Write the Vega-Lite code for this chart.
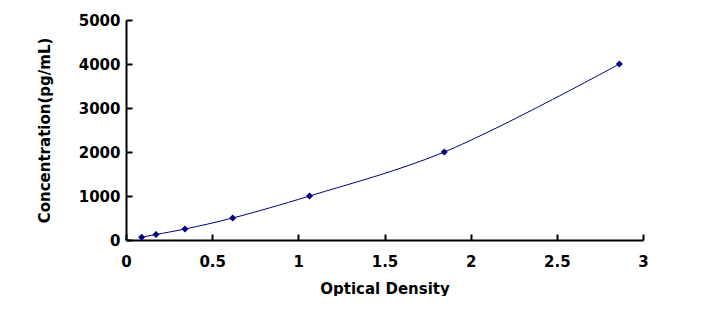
{
  "$schema": "https://vega.github.io/schema/vega-lite/v6.json",
  "width": 517,
  "height": 220,
  "autosize": {"type": "none"},
  "padding": {"left": 126, "top": 20, "right": 77, "bottom": 56},
  "background": "white",
  "config": {
    "view": {"stroke": null},
    "font": "DejaVu Sans",
    "axis": {
      "grid": false,
      "domainColor": "black",
      "domainWidth": 2,
      "tickColor": "black",
      "tickWidth": 2,
      "tickSize": -6,
      "labelFont": "DejaVu Sans",
      "labelFontWeight": "bold",
      "labelFontSize": 15,
      "labelColor": "black",
      "titleFont": "DejaVu Sans",
      "titleFontWeight": "bold",
      "titleFontSize": 15,
      "titleColor": "black"
    }
  },
  "data": {
    "values": [
      {"od": 0.091, "conc": 62.5},
      {"od": 0.174, "conc": 125},
      {"od": 0.342, "conc": 250},
      {"od": 0.619, "conc": 500},
      {"od": 1.065, "conc": 1000},
      {"od": 1.847, "conc": 2000},
      {"od": 2.863, "conc": 4000}
    ]
  },
  "encoding": {
    "x": {
      "field": "od",
      "type": "quantitative",
      "scale": {"domain": [0, 3], "nice": false},
      "axis": {"title": "Optical Density", "values": [0, 0.5, 1, 1.5, 2, 2.5, 3], "format": "~g", "labelPadding": 20, "titlePadding": 12, "labelFlush": false}
    },
    "y": {
      "field": "conc",
      "type": "quantitative",
      "scale": {"domain": [0, 5000], "nice": false},
      "axis": {"title": "Concentration(pg/mL)", "values": [0, 1000, 2000, 3000, 4000, 5000], "format": "d", "labelPadding": 12, "titlePadding": 26, "labelFlush": false}
    }
  },
  "layer": [
    {"mark": {"type": "line", "interpolate": "catmull-rom", "color": "#000080", "strokeWidth": 1}},
    {"mark": {"type": "point", "shape": "diamond", "filled": true, "color": "#000080", "size": 50, "opacity": 1}}
  ]
}
